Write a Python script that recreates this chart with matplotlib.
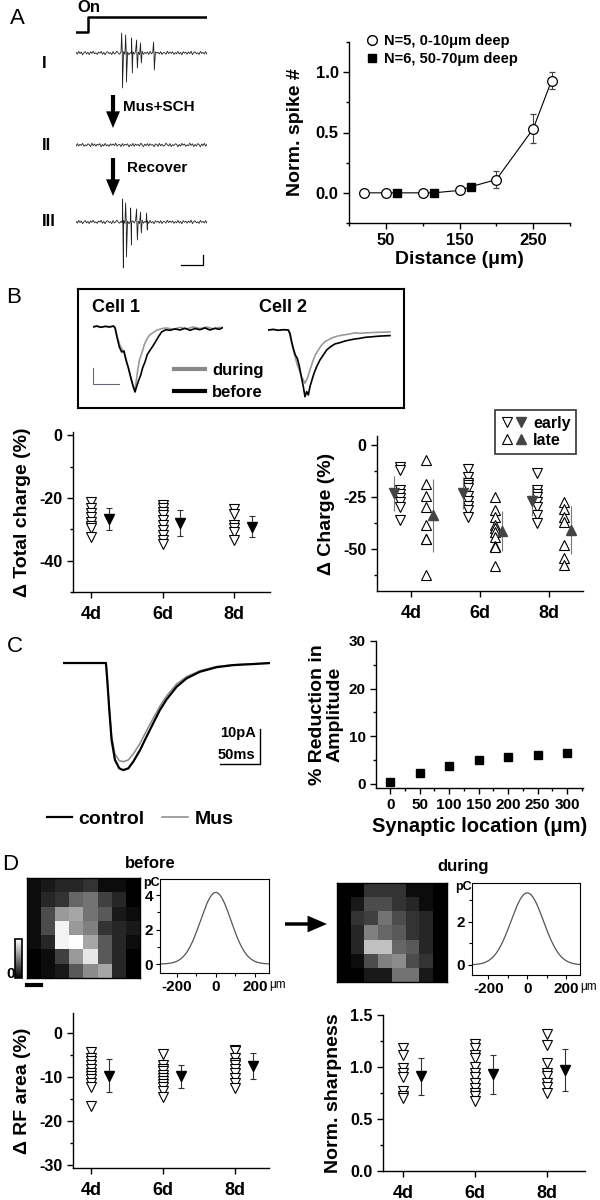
import numpy as np
import matplotlib
matplotlib.use("Agg")
import matplotlib.pyplot as plt
from matplotlib.lines import Line2D
from matplotlib.patches import FancyArrowPatch
from matplotlib.legend_handler import HandlerTuple
from matplotlib.ticker import MultipleLocator

plt.rcParams['font.family'] = ['Liberation Sans', 'DejaVu Sans']
plt.rcParams['font.weight'] = 'bold'
plt.rcParams['axes.labelweight'] = 'bold'
plt.rcParams['axes.linewidth'] = 1.0
plt.rcParams['axes.unicode_minus'] = False

# ----------------------------------------------------------------------
# Panel A : extracellular traces + spike count vs distance
# ----------------------------------------------------------------------
noise = [0.4, -0.6, 0.8, -0.3, 0.5, -0.9, 0.2, 0.7, -0.5, 0.3, -0.8, 0.6, -0.2, 0.9, -0.4,
         0.1, -0.7, 0.5, -0.1, 0.8, -0.6, 0.3, -0.9, 0.4, 0.6, -0.3, 0.2, -0.8, 0.7, -0.5,
         0.1, 0.9, -0.2, -0.6, 0.4, -0.4, 0.8, -0.7, 0.3, 0.5, -0.9, 0.2, -0.1, 0.6, -0.5,
         0.7, -0.3, 0.4, -0.8, 0.1, 0.9, -0.6, 0.3, -0.2, 0.5, -0.7, 0.8, -0.4, 0.2, -0.9,
         0.6, -0.1, 0.4, -0.5, 0.7, -0.8, 0.3, 0.1, -0.6, 0.9, -0.3, 0.5, -0.2, 0.6, -0.7,
         0.2, -0.4, 0.8, -0.5, 0.3, -0.9, 0.7, -0.1, 0.4, -0.6, 0.5, -0.3, 0.9, -0.8, 0.2,
         0.6, -0.4, 0.1, -0.7, 0.8, -0.2, 0.3, -0.5, 0.7, -0.6]
noise_t = np.arange(len(noise)) * 10.0          # ms

spk1_t = [348, 378, 423, 461, 491, 589]
spk1_up = [10, 9, 7.5, 6.5, 5, 5.5]
spk1_dn = [-17.5, -14.5, -10, -7.5, -5, -8.5]
spk3_t = [355, 378, 416, 461, 491, 536]
spk3_up = [11.5, 9.5, 7, 6.5, 5, 4.5]
spk3_dn = [-23, -17.5, -11.5, -9, -5.5, -4]

stim_t = [0, 91, 91, 990]
stim_v = [0, 0, 1, 1]

shallow_x = [20, 50, 100, 150, 200, 250, 275]
shallow_y = [0.0, 0.0, 0.0, 0.02, 0.11, 0.53, 0.93]
shallow_err = [0, 0, 0, 0, 0.07, 0.12, 0.07]
deep_x = [65, 115, 165]
deep_y = [0.0, 0.0, 0.05]
deep_err = [0, 0, 0.01]

# ----------------------------------------------------------------------
# Panel B : EPSC traces + charge changes
# ----------------------------------------------------------------------
c1_before_t = [0, 7, 14.7, 23, 31.4, 39, 42.2, 46.7, 50.6, 55, 59.5, 63.4, 67.8, 72.3, 76.2, 80.6,
               83.8, 87.7, 91.5, 95.4, 99.8, 104.3, 109.4, 114.6, 119.7, 125.4, 131.8, 140.2,
               147.8, 157.4, 167, 176.6, 186.2, 195.8, 205.4, 215, 224.6, 234.2, 242.6, 249]
c1_before_i = [0, 0.6, -0.2, 0.4, 0, 0.6, -0.4, -7.3, -12.5, -15.6, -15.0, -20.8, -25.4, -31.2,
               -35.8, -40.6, -37.1, -33.3, -30.2, -25.4, -21.9, -17.1, -14.6, -12.1, -9.4, -6.2,
               -3.1, -1.7, -2.1, -1.2, -1.9, -0.8, -2.1, -1.0, -1.7, -0.6, -1.9, -0.8, -1.5, -0.4]
c1_during_t = [0, 8.3, 16.6, 25, 32.6, 40.3, 42.9, 46.7, 51.8, 57, 61.4, 65.9, 69.8, 73.6, 77.4,
               80.6, 83.2, 85.8, 89, 92.2, 95.4, 99.2, 103, 108.2, 114.6, 122.2, 131.8, 141.4,
               154.2, 167, 179.8, 192.6, 205.4, 218.2, 231, 242.6, 249]
c1_during_i = [0, 0.4, -0.2, 0.4, 0, 0.4, -1, -6.2, -11.5, -14.6, -17.7, -22.9, -28.1, -33.3,
               -37.9, -39.6, -33.3, -27.1, -20.8, -17.7, -14.6, -10.4, -7.9, -5.2, -3.7, -2.1,
               -1, -0.6, -1.5, -0.2, -1.2, 0, -1, 0, -1.2, -0.2, -0.6]
c2_before_t = [0, 10.2, 19.8, 29.4, 39, 42.2, 45.4, 48.6, 52.4, 56.3, 60.1, 64, 67.8, 71, 74.2,
               77.4, 80.6, 84.4, 88.3, 93.4, 99.8, 106.2, 112.6, 120.3, 128.6, 138.2, 147.8,
               157.4, 167, 176.6, 186.2, 215, 234.2]
c2_before_i = [0, 0.4, -0.2, 0.2, 0, -2.1, -7.3, -11.5, -15.6, -17.7, -22.5, -29.2, -35.4, -41.7,
               -38.5, -40.6, -35.4, -31.2, -27.1, -22.9, -18.7, -15.6, -12.5, -10.4, -8.7, -7.9,
               -6.9, -6.2, -5.6, -5.2, -4.6, -3.8, -3.5]
c2_during_t = [0, 10.2, 19.8, 29.4, 39, 42.2, 45.4, 48.6, 52.4, 56.3, 60.1, 64, 67.8, 71, 75.5,
               80.6, 85.7, 90.8, 96.6, 103, 109.4, 117.7, 125.4, 135, 144.6, 157.4, 167, 176.6,
               186.2, 215, 234.2]
c2_during_i = [0, 0.2, -0.2, 0.2, 0, -3.1, -8.3, -12.5, -17.1, -21.9, -25, -29.2, -31.2, -33.3,
               -30.2, -25, -19.8, -15.6, -12.5, -9.4, -7.3, -5.8, -4.6, -3.7, -3.1, -2.5, -1.7,
               -2.1, -1.8, -1.4, -1.2]

days = ['4d', '6d', '8d']
tc_cells = [[-21.3, -23.2, -24.8, -26.0, -27.6, -28.9, -29.5, -32.4],
            [-22.2, -23.2, -24.4, -25.4, -27.0, -28.6, -30.2, -31.7, -33.3, -34.6],
            [-23.5, -25.1, -28.6, -29.5, -30.8, -33.3]]
tc_mean = [-26.7, -28.0, -29.2]
tc_err = [3.5, 4.0, 3.4]

early_cells = [[-10.4, -12.0, -21.5, -23.4, -25.3, -27.4, -29.7, -35.8],
               [-11.2, -15.2, -17.9, -19.0, -20.3, -24.2, -26.6, -29.0, -31.3, -34.5],
               [-13.4, -21.5, -23.4, -25.0, -27.0, -29.4, -33.7, -37.3]]
late_cells = [[-6.8, -18.7, -24.2, -29.7, -38.4, -44.8, -45.1, -62.2],
              [-25.0, -31.0, -34.2, -38.4, -39.7, -41.6, -44.0, -48.4, -49.0, -57.9],
              [-27.4, -30.5, -34.5, -36.9, -47.9, -54.3, -57.4]]
early_mean = [-23.0, -23.0, -26.6]
early_sd = [8.5, 7.6, 7.5]
late_mean = [-33.7, -41.1, -40.8]
late_sd = [17.5, 9.6, 11.5]

# ----------------------------------------------------------------------
# Panel C : model EPSC + amplitude reduction
# ----------------------------------------------------------------------
epsc_t = [0, 53.75, 55.4, 57.9, 60.8, 65, 70.4, 75.4, 81.7, 87.9, 96.3, 104.6, 112.9, 121.3,
          129.6, 142.1, 154.6, 171.3, 192.1, 212.9, 237.9, 258.8]
epsc_control = [0, 0, -4.9, -13.4, -22, -27.7, -30.1, -30.6, -30.1, -28.2, -24.9, -21, -17.2,
                -13.4, -10.4, -6.8, -4.4, -2.5, -1.2, -0.6, -0.3, 0]
epsc_mus = [0, 0, -4.7, -13.0, -21.0, -26.0, -27.9, -28.2, -27.7, -26.0, -23.0, -19.3, -15.8,
            -12.3, -9.4, -6.0, -3.9, -2.2, -1.0, -0.5, -0.2, -0.1]

syn_loc = [0, 50, 100, 150, 200, 250, 300]
reduction = [0.5, 2.2, 3.8, 5.0, 5.6, 6.1, 6.6]

# ----------------------------------------------------------------------
# Panel D : receptive fields
# ----------------------------------------------------------------------
rf_before = [[0.05, 0.10, 0.15, 0.15, 0.20, 0.05, 0.05, 0.00],
             [0.05, 0.15, 0.20, 0.40, 0.45, 0.25, 0.15, 0.00],
             [0.05, 0.30, 0.60, 0.65, 0.45, 0.35, 0.10, 0.05],
             [0.05, 0.30, 0.95, 0.60, 0.50, 0.20, 0.15, 0.10],
             [0.05, 0.15, 0.95, 1.00, 0.65, 0.35, 0.15, 0.05],
             [0.00, 0.05, 0.25, 0.60, 0.90, 0.35, 0.15, 0.00],
             [0.00, 0.05, 0.10, 0.35, 0.55, 0.65, 0.15, 0.00]]
rf_during = [[0.00, 0.00, 0.20, 0.20, 0.20, 0.05, 0.05, 0.00],
             [0.00, 0.10, 0.30, 0.30, 0.20, 0.15, 0.05, 0.00],
             [0.00, 0.20, 0.25, 0.45, 0.30, 0.20, 0.15, 0.00],
             [0.00, 0.15, 0.50, 0.40, 0.35, 0.20, 0.15, 0.00],
             [0.00, 0.15, 0.75, 0.75, 0.40, 0.35, 0.15, 0.00],
             [0.00, 0.05, 0.30, 0.50, 0.55, 0.30, 0.20, 0.00],
             [0.00, 0.00, 0.10, 0.10, 0.45, 0.45, 0.10, 0.00]]
gauss_peak = [4.15, 3.35]
gauss_sigma = [78, 84]

rf_cells = [[-4.3, -5.6, -6.3, -7.1, -8.1, -9.0, -9.8, -10.5, -11.3, -12.1, -16.6],
            [-4.8, -7.1, -8.2, -8.6, -9.4, -10.2, -10.9, -11.5, -12.1, -13.2, -14.4],
            [-3.7, -4.0, -5.6, -6.7, -7.1, -8.1, -9.0, -10.2, -11.3, -12.4]]
rf_mean = [-9.6, -9.8, -7.5]
rf_err = [3.7, 2.7, 3.0]
sh_cells = [[1.18, 1.12, 0.99, 0.94, 0.90, 0.77, 0.72, 0.70],
            [1.22, 1.18, 1.12, 1.09, 1.00, 0.94, 0.90, 0.85, 0.80, 0.75, 0.72, 0.67],
            [1.32, 1.21, 1.04, 0.94, 0.91, 0.85, 0.81, 0.75]]
sh_mean = [0.91, 0.93, 0.97]
sh_err = [0.18, 0.185, 0.20]

# ----------------------------------------------------------------------
# helpers
# ----------------------------------------------------------------------
W, H = 600, 1200
fig = plt.figure(figsize=(6, 12), dpi=100)


def box(x0, y0, x1, y1):
    return [x0 / W, 1 - y1 / H, (x1 - x0) / W, (y1 - y0) / H]


def fx(x):
    return x / W


def fy(y):
    return 1 - y / H


def open_axes(ax, fs=12):
    for s in ['top', 'right']:
        ax.spines[s].set_visible(False)
    ax.tick_params(direction='out', length=4, width=1, labelsize=fs)
    ax.tick_params(which='minor', direction='out', length=2.5, width=1)


def arrow(p0, p1, hw, hl, tw):
    fig.add_artist(FancyArrowPatch((fx(p0[0]), fy(p0[1])), (fx(p1[0]), fy(p1[1])),
                                   transform=fig.transFigure, color='k', lw=0,
                                   arrowstyle=f'simple,head_width={hw},head_length={hl},tail_width={tw}',
                                   mutation_scale=10, shrinkA=0, shrinkB=0))


def day_scatter(ax, cells, mean, err, xoff=0.25):
    for i, vals in enumerate(cells):
        ax.plot(np.full(len(vals), i + 1), vals, 'v', ls='', mfc='white', mec='k',
                ms=6.5, mew=0.8)
    ax.errorbar(np.arange(1, 4) + xoff, mean, yerr=err, fmt='v', color='k', ms=7,
                ecolor='#333333', elinewidth=0.8, capsize=2.5, capthick=0.8)
    ax.set_xticks([1, 2, 3])
    ax.set_xticklabels(days, fontsize=13)
    ax.tick_params(axis='x', pad=6)


def label(x, y, s):
    fig.text(fx(x), fy(y), s, fontsize=16, fontweight='normal', ha='center', va='center')


# ----------------------------------------------------------------------
# A
# ----------------------------------------------------------------------
label(17, 18, 'A')
ax_st = fig.add_axes(box(76, 12, 207, 37))
ax_st.plot(stim_t, stim_v, color='k', lw=1.8)
ax_st.set_xlim(0, 990)
ax_st.set_ylim(-0.333, 1.333)
ax_st.axis('off')
fig.text(fx(77), fy(8), 'On', fontsize=12, ha='left', va='center')


def spike_trace(box_px, ylim, sp_t, sp_up, sp_dn, nz):
    a = fig.add_axes(box(*box_px))
    t_all = list(noise_t)
    v_all = list(nz)
    for t, u, d in zip(sp_t, sp_up, sp_dn):
        t_all += [t - 3, t + 3]
        v_all += [u, d]
    t_all = np.array(t_all)
    v_all = np.array(v_all)
    o = np.argsort(t_all)
    a.plot(t_all[o], v_all[o], color='#222222', lw=0.6)
    a.set_xlim(0, 990)
    a.set_ylim(*ylim)
    a.axis('off')
    return a


spike_trace((76, 29, 207, 93), (-20, 12), spk1_t, spk1_up, spk1_dn, noise)
spike_trace((76, 121, 207, 185), (-20, 12), [], [], [], noise[::-1])
ax3 = spike_trace((76, 198, 207, 272), (-25, 12), spk3_t, spk3_up, spk3_dn, noise)
ax3.plot([795, 960, 960], [-21.5, -21.5, -16.5], color='k', lw=0.9, clip_on=False)

for yy, s in [(63, 'I'), (146, 'II'), (221, 'III')]:
    fig.text(fx(42), fy(yy), s, fontsize=12, ha='left', va='center')
arrow((113, 95), (113, 128), 1.0, 1.2, 0.3)
arrow((113, 158), (113, 196), 1.0, 1.2, 0.3)
fig.text(fx(123), fy(107), 'Mus+SCH', fontsize=11, ha='left', va='center')
fig.text(fx(127), fy(168), 'Recover', fontsize=11, ha='left', va='center')

ax = fig.add_axes(box(349, 42, 570, 223))
open_axes(ax)
all_x = np.array(shallow_x + deep_x)
all_y = np.array(shallow_y + deep_y)
o = np.argsort(all_x)
ax.plot(all_x[o], all_y[o], color='k', lw=0.8, zorder=1)
ax.errorbar(shallow_x, shallow_y, yerr=shallow_err, fmt='o', mfc='white', mec='k', ms=7,
            mew=0.9, ecolor='#444444', elinewidth=0.8, capsize=2.5, capthick=0.8, zorder=3)
ax.errorbar(deep_x, deep_y, yerr=deep_err, fmt='s', color='k', ms=5.5,
            ecolor='#444444', elinewidth=0.8, capsize=2.5, capthick=0.8, zorder=3)
ax.set_xlim(0, 300)
ax.set_ylim(-0.25, 1.25)
ax.set_xticks([50, 150, 250])
ax.xaxis.set_minor_locator(MultipleLocator(100))
ax.set_yticks([0, 0.5, 1.0])
ax.set_yticklabels(['0.0', '0.5', '1.0'])
ax.yaxis.set_minor_locator(MultipleLocator(0.25))
ax.set_xlabel('Distance (μm)', fontsize=14, labelpad=2)
ax.set_ylabel('Norm. spike #', fontsize=14, labelpad=8)
hA = [Line2D([], [], marker='o', ls='', mfc='white', mec='k', ms=7, mew=1),
      Line2D([], [], marker='s', ls='', color='k', ms=5.5)]
fig.legend(hA, ['N=5, 0-10μm deep', 'N=6, 50-70μm deep'], loc='upper left',
           bbox_to_anchor=(fx(366), fy(34)), frameon=False, fontsize=10.5,
           handlelength=0.8, handletextpad=0.4, borderpad=0, labelspacing=0.3,
           borderaxespad=0)

# ----------------------------------------------------------------------
# B
# ----------------------------------------------------------------------
label(14, 297, 'B')
axb = fig.add_axes(box(78, 289, 404, 408))
axb.set_xticks([])
axb.set_yticks([])
for s in axb.spines.values():
    s.set_linewidth(1.5)
fig.text(fx(92), fy(307), 'Cell 1', fontsize=13, ha='left', va='center')
fig.text(fx(259), fy(307), 'Cell 2', fontsize=13, ha='left', va='center')

c1 = fig.add_axes(box(93, 318, 223, 400))
c1.plot(c1_during_t, c1_during_i, color='#999999', lw=1.2)
c1.plot(c1_before_t, c1_before_i, color='k', lw=1.2)
c1.plot([0, 0, 50], [-25.6, -35.6, -35.6], color='#666677', lw=0.8)
c1.set_xlim(0, 249.6)
c1.set_ylim(-45.6, 5.6)
c1.axis('off')
c2 = fig.add_axes(box(268, 320, 398, 402))
c2.plot(c2_during_t, c2_during_i, color='#999999', lw=1.2)
c2.plot(c2_before_t, c2_before_i, color='k', lw=1.2)
c2.set_xlim(0, 249.6)
c2.set_ylim(-45, 6.25)
c2.axis('off')
axb.legend([Line2D([], [], color='#888888', lw=3), Line2D([], [], color='k', lw=3)],
           ['during', 'before'], loc='upper left',
           bbox_to_anchor=((174 - 78) / 326, (408 - 362.7) / 119), frameon=False,
           borderpad=0, borderaxespad=0, handlelength=1.86, handletextpad=0.42,
           labelspacing=0.44, fontsize=12)

ax = fig.add_axes(box(73, 432, 270, 592))
open_axes(ax, 11.5)
day_scatter(ax, tc_cells, tc_mean, tc_err)
ax.set_xlim(0.75, 3.5)
ax.set_ylim(-50, 1)
ax.set_yticks([0, -20, -40])
ax.yaxis.set_minor_locator(MultipleLocator(10))
ax.set_ylabel('Δ Total charge (%)', fontsize=14, labelpad=6)

ax = fig.add_axes(box(377, 436, 583, 591))
open_axes(ax, 11.5)
for i in range(3):
    ax.plot(np.full(len(early_cells[i]), i + 1 - 0.17), early_cells[i], 'v', ls='',
            mfc='white', mec='k', ms=6.5, mew=0.8)
    ax.plot(np.full(len(late_cells[i]), i + 1 + 0.22), late_cells[i], '^', ls='',
            mfc='white', mec='k', ms=6.5, mew=0.8)
ax.errorbar(np.arange(1, 4) - 0.25, early_mean, yerr=early_sd, fmt='v', color='#444444',
            ms=7, ecolor='#777777', elinewidth=0.8, capsize=0)
ax.errorbar(np.arange(1, 4) + 0.32, late_mean, yerr=late_sd, fmt='^', color='#444444',
            ms=7, ecolor='#777777', elinewidth=0.8, capsize=0)
ax.set_xticks([1, 2, 3])
ax.set_xticklabels(days, fontsize=13)
ax.tick_params(axis='x', pad=6)
ax.set_xlim(0.5, 3.5)
ax.set_ylim(-70, 4.5)
ax.set_yticks([0, -25, -50])
ax.yaxis.set_minor_locator(MultipleLocator(12.5))
ax.set_ylabel('Δ Charge (%)', fontsize=14, labelpad=6)
hB = [(Line2D([], [], marker='v', ls='', mfc='white', mec='k', ms=6.5, mew=0.8),
       Line2D([], [], marker='v', ls='', color='#444444', ms=6.5)),
      (Line2D([], [], marker='^', ls='', mfc='white', mec='k', ms=6.5, mew=0.8),
       Line2D([], [], marker='^', ls='', color='#444444', ms=6.5))]
legB = fig.legend(hB, ['early', 'late'], handler_map={tuple: HandlerTuple(ndivide=None, pad=0.1)},
                  loc='upper right', bbox_to_anchor=(fx(576), fy(410)), fontsize=11.5,
                  frameon=True, fancybox=False, edgecolor='k', borderpad=0.35,
                  handlelength=1.6, handletextpad=0.4, labelspacing=0.15, borderaxespad=0)
legB.get_frame().set_linewidth(1.2)

# ----------------------------------------------------------------------
# C
# ----------------------------------------------------------------------
label(15, 646, 'C')
ax = fig.add_axes(box(63, 655, 270, 780))
ax.plot(epsc_t, epsc_mus, color='#888888', lw=1.1)
ax.plot(epsc_t, epsc_control, color='k', lw=1.6)
ax.plot([196, 246, 246], [-28.9, -28.9, -18.9], color='k', lw=1.0)
ax.text(242, -20, '10pA', fontsize=10.5, ha='right', va='center')
ax.text(241, -28.2, '50ms', fontsize=10.5, ha='right', va='bottom')
ax.set_xlim(0, 259)
ax.set_ylim(-33.43, 2.29)
ax.axis('off')
fig.legend([Line2D([], [], color='k', lw=1.6), Line2D([], [], color='#888888', lw=1.1)],
           ['control', 'Mus'], loc='center', bbox_to_anchor=(fx(140), fy(819)), ncol=2,
           frameon=False, fontsize=14, handlelength=1.3, handletextpad=0.35,
           columnspacing=0.9)

ax = fig.add_axes(box(376, 641, 583, 788))
open_axes(ax, 11)
ax.plot(syn_loc, reduction, 's', color='k', ms=5.5)
ax.set_xlim(-24, 327)
ax.set_ylim(-0.85, 30)
ax.set_xticks(syn_loc)
ax.xaxis.set_minor_locator(MultipleLocator(25))
ax.set_yticks([0, 10, 20, 30])
ax.yaxis.set_minor_locator(MultipleLocator(5))
ax.set_xlabel('Synaptic location (μm)', fontsize=14.5, labelpad=3)
ax.set_ylabel('% Reduction in\nAmplitude', fontsize=14, labelpad=4, linespacing=1.0)

# ----------------------------------------------------------------------
# D
# ----------------------------------------------------------------------
label(10, 864, 'D')
fig.text(fx(150), fy(863), 'before', fontsize=12, ha='center', va='center')
fig.text(fx(463), fy(866), 'during', fontsize=12, ha='center', va='center')

ax = fig.add_axes(box(27, 878, 140, 978))
im = ax.imshow(rf_before, cmap='gray', vmin=0, vmax=1, aspect='auto', interpolation='nearest')
ax.set_xticks([])
ax.set_yticks([])
cax = fig.add_axes(box(15, 939, 22, 978))
cb = fig.colorbar(im, cax=cax)
cb.set_ticks([])
cb.outline.set_linewidth(1.2)
fig.text(fx(11), fy(974), '0', fontsize=11, ha='center', va='center')
fig.add_artist(Line2D([fx(27), fx(41)], [fy(985), fy(985)], transform=fig.transFigure,
                      color='k', lw=3))

ax = fig.add_axes(box(337, 883, 447, 982))
ax.imshow(rf_during, cmap='gray', vmin=0, vmax=1, aspect='auto', interpolation='nearest')
ax.set_xticks([])
ax.set_yticks([])

arrow((285, 924), (327, 924), 1.2, 1.4, 0.25)

gx = np.linspace(-285, 272, 300)
for k, (bx, ylim, yt) in enumerate([((160, 879, 269, 973), (-0.52, 4.93), [0, 2, 4]),
                                    ((472, 883, 580, 975), (-0.47, 3.81), [0, 2])]):
    ga = fig.add_axes(box(*bx))
    ga.plot(gx, gauss_peak[k] * np.exp(-gx ** 2 / (2 * gauss_sigma[k] ** 2)),
            color='#555555', lw=0.9)
    ga.set_xlim(-285, 272)
    ga.set_ylim(*ylim)
    ga.set_xticks([-200, 0, 200])
    ga.xaxis.set_minor_locator(MultipleLocator(100))
    ga.set_yticks(yt)
    ga.yaxis.set_minor_locator(MultipleLocator(1))
    ga.tick_params(direction='out', length=3, width=0.8, labelsize=11, pad=2)
    ga.tick_params(which='minor', direction='out', length=2, width=0.8)
    for s in ga.spines.values():
        s.set_linewidth(0.8)
    ga.text(0, 0.96, 'pC', transform=ga.transAxes, fontsize=9, ha='right', va='center')
    ga.text(1.0, -0.13, 'μm', transform=ga.transAxes, fontsize=8.5, fontweight='normal',
            ha='left', va='center')

ax = fig.add_axes(box(73, 1013, 269, 1168))
open_axes(ax, 11.5)
day_scatter(ax, rf_cells, rf_mean, rf_err)
ax.set_xlim(0.75, 3.47)
ax.set_ylim(-30.6, 4.6)
ax.set_yticks([0, -10, -20, -30])
ax.yaxis.set_minor_locator(MultipleLocator(5))
ax.set_ylabel('Δ RF area (%)', fontsize=14, labelpad=6)

ax = fig.add_axes(box(383, 1015, 585, 1171))
open_axes(ax, 11.5)
day_scatter(ax, sh_cells, sh_mean, sh_err)
ax.set_xlim(0.72, 3.53)
ax.set_ylim(0, 1.5)
ax.set_yticks([0, 0.5, 1.0, 1.5])
ax.set_yticklabels(['0.0', '0.5', '1.0', '1.5'])
ax.yaxis.set_minor_locator(MultipleLocator(0.25))
ax.set_ylabel('Norm. sharpness', fontsize=14, labelpad=6)

fig.savefig('out.png', dpi=100)
